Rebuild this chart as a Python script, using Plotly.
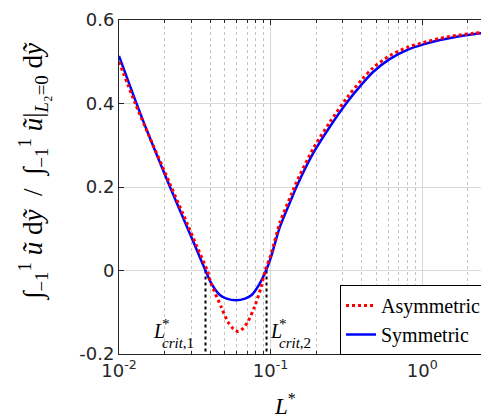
import math
import plotly.graph_objects as go

# ---- data ----
L_sym = [0.0100, 0.0128, 0.0158, 0.0217, 0.0282, 0.0326, 0.0372, 0.0408, 0.0463,
         0.0513, 0.0592, 0.0678, 0.0750, 0.0851, 0.0933, 0.100, 0.1153, 0.1377,
         0.148, 0.191, 0.2466, 0.3177, 0.395, 0.4757, 0.613, 0.791, 1.017, 1.31,
         1.689, 2.17, 2.76]
v_sym = [0.514, 0.408, 0.322, 0.200, 0.103, 0.049, 0.000, -0.032, -0.0586,
         -0.0674, -0.0713, -0.0674, -0.0586, -0.030, 0.000, 0.029, 0.105, 0.173,
         0.200, 0.281, 0.345, 0.402, 0.444, 0.476, 0.507, 0.528, 0.5415, 0.552,
         0.560, 0.566, 0.5705]

L_asym = [0.0100, 0.0128, 0.0158, 0.0217, 0.0282, 0.0326, 0.0382, 0.0406, 0.0472,
          0.0522, 0.0569, 0.0612, 0.0661, 0.0708, 0.0783, 0.0867, 0.0920, 0.100,
          0.1153, 0.1377, 0.148, 0.191, 0.2466, 0.3177, 0.395, 0.4757, 0.613,
          0.791, 1.017, 1.31, 1.689, 2.17, 2.76]
v_asym = [0.500, 0.400, 0.322, 0.207, 0.112, 0.058, 0.000, -0.032, -0.087,
          -0.1226, -0.140, -0.146, -0.138, -0.1226, -0.087, -0.039, 0.000, 0.036,
          0.115, 0.184, 0.211, 0.292, 0.356, 0.413, 0.455, 0.486, 0.515,
          0.534, 0.546, 0.556, 0.563, 0.568, 0.5715]

L_crit = [0.0372, 0.0940]
crit_subs = ["<i>crit</i>,1", "<i>crit</i>,2"]
crit_label_L = [0.01652, 0.0980]     # left edge of the "L" of each label
crit_label_sub = [0.01892, 0.1120]   # left edge of the sub/superscript

x_major = [0.01, 0.1, 1]
x_major_text = ["10<sup>-2</sup>", "10<sup>-1</sup>", "10<sup>0</sup>"]
x_minor = [m * d for d in (0.01, 0.1, 1) for m in range(2, 10)]
y_ticks = [-0.2, 0, 0.2, 0.4, 0.6]
y_tick_text = ["-0.2", "0", "0.2", "0.4", "0.6"]

AX = "#262626"
SERIF = "Liberation Serif"

fig = go.Figure()

for Lc in L_crit:
    fig.add_trace(go.Scatter(x=[Lc, Lc], y=[0, -0.2], mode="lines",
                             line=dict(color="black", width=2, dash="dot"),
                             showlegend=False, hoverinfo="skip"))

fig.add_trace(go.Scatter(x=L_sym, y=v_sym, mode="lines", name="Symmetric",
                         line=dict(color="#0000ff", width=2.5, shape="spline", smoothing=0.8),
                         legendrank=2))
fig.add_trace(go.Scatter(x=L_asym, y=v_asym, mode="lines", name="Asymmetric",
                         line=dict(color="#ff0000", width=3, dash="dot", shape="spline", smoothing=0.8),
                         legendrank=1))

# page body has an 8px margin, so the figure is offset by (8, 8) on screen
fig.update_layout(
    width=489, height=419,
    margin=dict(l=111, r=8, t=12, b=73, autoexpand=False),
    paper_bgcolor="white", plot_bgcolor="white",
    showlegend=True,
    legend=dict(x=(486 - 119) / 370, y=(354 - 320) / 334, xanchor="right", yanchor="middle",
                bgcolor="white", bordercolor="black", borderwidth=1,
                font=dict(family=SERIF, size=20, color="black"),
                itemwidth=30, tracegroupgap=0),
)

fig.update_xaxes(
    type="log", range=[-2, 0.4406],
    tickvals=x_major, ticktext=x_major_text,
    tickfont=dict(family="DejaVu Sans", size=18, color=AX),
    ticks="inside", ticklen=5, tickcolor=AX,
    showline=True, linecolor=AX, linewidth=1, mirror="ticks",
    showgrid=True, gridcolor="#d9d9d9", gridwidth=1,
    minor=dict(tickvals=x_minor, ticks="inside", ticklen=3, tickcolor=AX,
               showgrid=True, gridcolor="#c4c4c4", griddash="dot", gridwidth=1),
    zeroline=False, automargin=False,
)
fig.update_yaxes(
    range=[-0.2, 0.6],
    tickvals=y_ticks, ticktext=y_tick_text,
    tickfont=dict(family="DejaVu Sans", size=18, color=AX),
    ticks="inside", ticklen=5, tickcolor=AX,
    showline=True, linecolor=AX, linewidth=1, mirror=False,
    showgrid=True, gridcolor="#d9d9d9", gridwidth=1,
    zeroline=False, automargin=False,
)

ann = []
for xl, xs, sub in zip(crit_label_L, crit_label_sub, crit_subs):
    ann.append(dict(x=math.log10(xl), y=-0.145, xref="x", yref="y", text="<i>L</i>",
                    showarrow=False, font=dict(family=SERIF, size=20, color="black"),
                    xanchor="left", yanchor="middle", borderpad=0))
    ann.append(dict(x=math.log10(xs), y=-0.128, xref="x", yref="y", text="*",
                    showarrow=False, font=dict(family=SERIF, size=15, color="black"),
                    xanchor="left", yanchor="middle", borderpad=0))
    ann.append(dict(x=math.log10(xs), y=-0.174, xref="x", yref="y", text=sub,
                    showarrow=False, font=dict(family=SERIF, size=15, color="black"),
                    xanchor="left", yanchor="middle", borderpad=0))
# x title
ann.append(dict(x=(285 - 119) / 370, y=-(404 - 354) / 334, xref="paper", yref="paper",
                text="<i>L</i><sup>*</sup>", showarrow=False,
                font=dict(family=SERIF, size=23, color="black"),
                xanchor="center", yanchor="middle"))
# y title
ann.append(dict(x=(33 - 119) / 370, y=(354 - 172) / 334, xref="paper", yref="paper",
                text="∫<sub>−1</sub><sup>1</sup> <i>ũ</i> d<i>ỹ</i>  /  ∫<sub>−1</sub><sup>1</sup> <i>ũ</i>|<sub><i>L</i>₂=0</sub> d<i>ỹ</i>",
                textangle=-90, showarrow=False,
                font=dict(family=SERIF, size=27, color="black"),
                xanchor="center", yanchor="middle"))
fig.update_layout(annotations=ann)

fig.write_html("out.html")
